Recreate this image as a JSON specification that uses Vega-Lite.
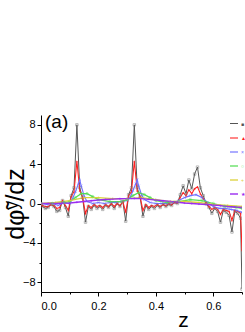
{
  "$schema": "https://vega.github.io/schema/vega-lite/v6.json",
  "width": 201,
  "height": 177,
  "autosize": {"type": "none"},
  "padding": {"left": 41, "top": 115, "right": 3, "bottom": 40},
  "background": "white",
  "config": {
    "view": {"stroke": null},
    "font": "Liberation Sans",
    "axis": {"grid": false, "domainColor": "black", "tickColor": "black", "labelColor": "black", "titleColor": "black", "labelFont": "Liberation Sans", "titleFont": "Liberation Sans", "labelFontSize": 11, "titleFontWeight": "normal"}
  },
  "title": {"text": "(a)", "anchor": "start", "frame": "group", "fontSize": 19, "fontWeight": "normal", "font": "Liberation Sans", "color": "black", "offset": -17, "dx": 4},
  "datasets": {
    "d": [
      {"s":"s1","z":0,"v":-0.1},{"s":"s1","z":0.005,"v":-0.3},{"s":"s1","z":0.015,"v":-0.5},{"s":"s1","z":0.025,"v":-0.4},{"s":"s1","z":0.035,"v":-0.1},{"s":"s1","z":0.045,"v":-0.3},{"s":"s1","z":0.055,"v":-0.8},{"s":"s1","z":0.065,"v":-0.7},{"s":"s1","z":0.075,"v":0.3},{"s":"s1","z":0.085,"v":-0.4},{"s":"s1","z":0.095,"v":-1.3},{"s":"s1","z":0.105,"v":0.8},{"s":"s1","z":0.115,"v":1.6},{"s":"s1","z":0.125,"v":8.0},{"s":"s1","z":0.135,"v":1.6},{"s":"s1","z":0.145,"v":0.6},{"s":"s1","z":0.155,"v":-1.9},{"s":"s1","z":0.165,"v":-0.3},{"s":"s1","z":0.175,"v":-0.6},{"s":"s1","z":0.185,"v":-0.2},{"s":"s1","z":0.195,"v":-0.5},{"s":"s1","z":0.205,"v":-0.3},{"s":"s1","z":0.215,"v":-0.6},{"s":"s1","z":0.225,"v":-0.2},{"s":"s1","z":0.235,"v":-0.4},{"s":"s1","z":0.245,"v":-0.1},{"s":"s1","z":0.255,"v":-0.5},{"s":"s1","z":0.265,"v":0.0},{"s":"s1","z":0.275,"v":-0.3},{"s":"s1","z":0.285,"v":0.2},{"s":"s1","z":0.295,"v":-1.8},{"s":"s1","z":0.305,"v":0.9},{"s":"s1","z":0.315,"v":1.6},{"s":"s1","z":0.325,"v":8.0},{"s":"s1","z":0.335,"v":1.6},{"s":"s1","z":0.345,"v":0.7},{"s":"s1","z":0.355,"v":-1.3},{"s":"s1","z":0.365,"v":-0.2},{"s":"s1","z":0.375,"v":-0.6},{"s":"s1","z":0.385,"v":-0.3},{"s":"s1","z":0.395,"v":-0.5},{"s":"s1","z":0.405,"v":-0.2},{"s":"s1","z":0.415,"v":-0.4},{"s":"s1","z":0.425,"v":-0.1},{"s":"s1","z":0.435,"v":-0.3},{"s":"s1","z":0.445,"v":-0.1},{"s":"s1","z":0.455,"v":-0.2},{"s":"s1","z":0.465,"v":0.1},{"s":"s1","z":0.475,"v":0.0},{"s":"s1","z":0.485,"v":0.9},{"s":"s1","z":0.495,"v":1.8},{"s":"s1","z":0.505,"v":1.0},{"s":"s1","z":0.515,"v":2.4},{"s":"s1","z":0.525,"v":1.5},{"s":"s1","z":0.535,"v":3.0},{"s":"s1","z":0.545,"v":3.7},{"s":"s1","z":0.555,"v":1.6},{"s":"s1","z":0.565,"v":0.8},{"s":"s1","z":0.575,"v":0.0},{"s":"s1","z":0.585,"v":-0.4},{"s":"s1","z":0.595,"v":-1.0},{"s":"s1","z":0.605,"v":-0.5},{"s":"s1","z":0.615,"v":-0.8},{"s":"s1","z":0.625,"v":-1.9},{"s":"s1","z":0.635,"v":-0.7},{"s":"s1","z":0.645,"v":-0.9},{"s":"s1","z":0.655,"v":-1.2},{"s":"s1","z":0.665,"v":-2.9},{"s":"s1","z":0.675,"v":-0.8},{"s":"s1","z":0.685,"v":-1.0},{"s":"s1","z":0.695,"v":-1.5},{"s":"s1","z":0.7,"v":-8.7},
      {"s":"s2","z":0,"v":-0.1},{"s":"s2","z":0.005,"v":-0.2},{"s":"s2","z":0.015,"v":-0.3},{"s":"s2","z":0.025,"v":-0.3},{"s":"s2","z":0.035,"v":-0.1},{"s":"s2","z":0.045,"v":-0.2},{"s":"s2","z":0.055,"v":-0.5},{"s":"s2","z":0.065,"v":-0.4},{"s":"s2","z":0.075,"v":0.3},{"s":"s2","z":0.085,"v":-0.2},{"s":"s2","z":0.095,"v":-0.7},{"s":"s2","z":0.105,"v":0.7},{"s":"s2","z":0.115,"v":1.2},{"s":"s2","z":0.125,"v":4.3},{"s":"s2","z":0.135,"v":1.3},{"s":"s2","z":0.145,"v":0.6},{"s":"s2","z":0.155,"v":-1.0},{"s":"s2","z":0.165,"v":-0.2},{"s":"s2","z":0.175,"v":-0.4},{"s":"s2","z":0.185,"v":-0.1},{"s":"s2","z":0.195,"v":-0.3},{"s":"s2","z":0.205,"v":-0.2},{"s":"s2","z":0.215,"v":-0.4},{"s":"s2","z":0.225,"v":-0.1},{"s":"s2","z":0.235,"v":-0.3},{"s":"s2","z":0.245,"v":0.0},{"s":"s2","z":0.255,"v":-0.3},{"s":"s2","z":0.265,"v":0.0},{"s":"s2","z":0.275,"v":-0.2},{"s":"s2","z":0.285,"v":0.2},{"s":"s2","z":0.295,"v":-0.9},{"s":"s2","z":0.305,"v":0.8},{"s":"s2","z":0.315,"v":1.2},{"s":"s2","z":0.325,"v":4.3},{"s":"s2","z":0.335,"v":1.3},{"s":"s2","z":0.345,"v":0.7},{"s":"s2","z":0.355,"v":-0.7},{"s":"s2","z":0.365,"v":-0.1},{"s":"s2","z":0.375,"v":-0.4},{"s":"s2","z":0.385,"v":-0.2},{"s":"s2","z":0.395,"v":-0.3},{"s":"s2","z":0.405,"v":-0.1},{"s":"s2","z":0.415,"v":-0.3},{"s":"s2","z":0.425,"v":-0.1},{"s":"s2","z":0.435,"v":-0.2},{"s":"s2","z":0.445,"v":0.0},{"s":"s2","z":0.455,"v":-0.1},{"s":"s2","z":0.465,"v":0.1},{"s":"s2","z":0.475,"v":0.1},{"s":"s2","z":0.485,"v":0.6},{"s":"s2","z":0.495,"v":1.1},{"s":"s2","z":0.505,"v":0.8},{"s":"s2","z":0.515,"v":1.4},{"s":"s2","z":0.525,"v":1.0},{"s":"s2","z":0.535,"v":1.5},{"s":"s2","z":0.545,"v":1.7},{"s":"s2","z":0.555,"v":1.0},{"s":"s2","z":0.565,"v":0.5},{"s":"s2","z":0.575,"v":0.1},{"s":"s2","z":0.585,"v":-0.3},{"s":"s2","z":0.595,"v":-0.6},{"s":"s2","z":0.605,"v":-0.4},{"s":"s2","z":0.615,"v":-0.6},{"s":"s2","z":0.625,"v":-1.1},{"s":"s2","z":0.635,"v":-0.6},{"s":"s2","z":0.645,"v":-0.7},{"s":"s2","z":0.655,"v":-0.8},{"s":"s2","z":0.665,"v":-1.7},{"s":"s2","z":0.675,"v":-0.7},{"s":"s2","z":0.685,"v":-0.8},{"s":"s2","z":0.695,"v":-1.0},{"s":"s2","z":0.7,"v":-4.75},
      {"s":"s3","z":0,"v":0.0},{"s":"s3","z":0.02,"v":-0.1},{"s":"s3","z":0.04,"v":0.0},{"s":"s3","z":0.06,"v":-0.2},{"s":"s3","z":0.08,"v":0.1},{"s":"s3","z":0.1,"v":0.0},{"s":"s3","z":0.11,"v":0.5},{"s":"s3","z":0.12,"v":1.2},{"s":"s3","z":0.13,"v":2.0},{"s":"s3","z":0.135,"v":2.4},{"s":"s3","z":0.14,"v":1.8},{"s":"s3","z":0.15,"v":0.8},{"s":"s3","z":0.16,"v":0.2},{"s":"s3","z":0.18,"v":0.0},{"s":"s3","z":0.2,"v":0.1},{"s":"s3","z":0.22,"v":0.0},{"s":"s3","z":0.24,"v":0.1},{"s":"s3","z":0.26,"v":0.1},{"s":"s3","z":0.28,"v":0.2},{"s":"s3","z":0.3,"v":0.3},{"s":"s3","z":0.31,"v":0.6},{"s":"s3","z":0.32,"v":1.3},{"s":"s3","z":0.33,"v":2.0},{"s":"s3","z":0.335,"v":2.4},{"s":"s3","z":0.34,"v":1.8},{"s":"s3","z":0.35,"v":0.9},{"s":"s3","z":0.36,"v":0.4},{"s":"s3","z":0.38,"v":0.1},{"s":"s3","z":0.4,"v":0.0},{"s":"s3","z":0.42,"v":0.0},{"s":"s3","z":0.44,"v":0.0},{"s":"s3","z":0.46,"v":0.1},{"s":"s3","z":0.48,"v":0.3},{"s":"s3","z":0.5,"v":0.6},{"s":"s3","z":0.52,"v":0.8},{"s":"s3","z":0.54,"v":0.9},{"s":"s3","z":0.56,"v":0.6},{"s":"s3","z":0.58,"v":0.1},{"s":"s3","z":0.6,"v":-0.3},{"s":"s3","z":0.62,"v":-0.5},{"s":"s3","z":0.64,"v":-0.5},{"s":"s3","z":0.66,"v":-0.6},{"s":"s3","z":0.68,"v":-0.7},{"s":"s3","z":0.7,"v":-0.9},
      {"s":"s4","z":0,"v":0.0},{"s":"s4","z":0.04,"v":0.0},{"s":"s4","z":0.08,"v":0.1},{"s":"s4","z":0.1,"v":0.2},{"s":"s4","z":0.12,"v":0.6},{"s":"s4","z":0.14,"v":1.0},{"s":"s4","z":0.16,"v":1.0},{"s":"s4","z":0.18,"v":0.7},{"s":"s4","z":0.2,"v":0.4},{"s":"s4","z":0.24,"v":0.2},{"s":"s4","z":0.28,"v":0.2},{"s":"s4","z":0.3,"v":0.4},{"s":"s4","z":0.32,"v":0.8},{"s":"s4","z":0.34,"v":1.1},{"s":"s4","z":0.36,"v":0.9},{"s":"s4","z":0.38,"v":0.6},{"s":"s4","z":0.4,"v":0.3},{"s":"s4","z":0.44,"v":0.1},{"s":"s4","z":0.48,"v":0.2},{"s":"s4","z":0.52,"v":0.4},{"s":"s4","z":0.56,"v":0.3},{"s":"s4","z":0.6,"v":0.0},{"s":"s4","z":0.64,"v":-0.3},{"s":"s4","z":0.68,"v":-0.4},{"s":"s4","z":0.7,"v":-0.5},
      {"s":"s5","z":0,"v":0.0},{"s":"s5","z":0.05,"v":0.1},{"s":"s5","z":0.1,"v":0.3},{"s":"s5","z":0.15,"v":0.6},{"s":"s5","z":0.2,"v":0.6},{"s":"s5","z":0.25,"v":0.5},{"s":"s5","z":0.3,"v":0.5},{"s":"s5","z":0.35,"v":0.6},{"s":"s5","z":0.4,"v":0.4},{"s":"s5","z":0.45,"v":0.2},{"s":"s5","z":0.5,"v":0.2},{"s":"s5","z":0.55,"v":0.1},{"s":"s5","z":0.6,"v":-0.1},{"s":"s5","z":0.65,"v":-0.2},{"s":"s5","z":0.7,"v":-0.3},
      {"s":"s6","z":0,"v":0.0},{"s":"s6","z":0.025,"v":0.0},{"s":"s6","z":0.05,"v":0.0},{"s":"s6","z":0.075,"v":0.02},{"s":"s6","z":0.1,"v":0.05},{"s":"s6","z":0.125,"v":0.12},{"s":"s6","z":0.15,"v":0.2},{"s":"s6","z":0.175,"v":0.28},{"s":"s6","z":0.2,"v":0.35},{"s":"s6","z":0.225,"v":0.4},{"s":"s6","z":0.25,"v":0.45},{"s":"s6","z":0.275,"v":0.48},{"s":"s6","z":0.3,"v":0.5},{"s":"s6","z":0.325,"v":0.52},{"s":"s6","z":0.35,"v":0.5},{"s":"s6","z":0.375,"v":0.42},{"s":"s6","z":0.4,"v":0.35},{"s":"s6","z":0.425,"v":0.28},{"s":"s6","z":0.45,"v":0.2},{"s":"s6","z":0.475,"v":0.12},{"s":"s6","z":0.5,"v":0.05},{"s":"s6","z":0.525,"v":0.0},{"s":"s6","z":0.55,"v":-0.05},{"s":"s6","z":0.575,"v":-0.1},{"s":"s6","z":0.6,"v":-0.15},{"s":"s6","z":0.625,"v":-0.22},{"s":"s6","z":0.65,"v":-0.3},{"s":"s6","z":0.675,"v":-0.35},{"s":"s6","z":0.7,"v":-0.4}
    ]
  },
  "data": {"name": "d"},
  "encoding": {
    "x": {"field": "z", "type": "quantitative", "scale": {"domain": [0, 0.7], "nice": false, "zero": false},
      "axis": {"title": "z", "values": [0, 0.1, 0.2, 0.3, 0.4, 0.5, 0.6, 0.7], "labelExpr": "round(datum.value*10)%2==1 ? '' : format(datum.value, '.1f')",
        "tickSize": {"condition": {"test": "round(datum.value*10)%2==1", "value": 2}, "value": 4},
        "labelPadding": 4, "titleFontSize": 21, "titleX": 142, "titleY": 34, "titleBaseline": "alphabetic", "titleAlign": "center"}},
    "y": {"field": "v", "type": "quantitative", "scale": {"domain": [-9, 9], "nice": false},
      "axis": {"title": "dφ̃ʸ/dz", "values": [-8, -6, -4, -2, 0, 2, 4, 6, 8], "labelExpr": "datum.value%4==0 ? datum.label : ''",
        "tickSize": {"condition": {"test": "datum.value%4!=0", "value": 2}, "value": 4},
        "labelPadding": 2, "titleFontSize": 25, "titlePadding": -6}}
  },
  "layer": [
    {
      "mark": {"type": "line", "clip": true},
      "encoding": {
        "strokeWidth": {"field": "s", "type": "nominal", "scale": {"domain": ["s1","s2","s3","s4","s5","s6"], "range": [1, 1.4, 1, 1, 1, 2]}, "legend": null},
        "color": {"field": "s", "type": "nominal", "scale": {"domain": ["s1","s2","s3","s4","s5","s6"], "range": ["#555555","#ff2020","#7070ff","#55dd55","#dcd23c","#9a2cf0"]},
          "legend": {"orient": "none", "legendX": 188, "legendY": 4, "title": null, "symbolType": "stroke", "symbolSize": 64, "symbolStrokeWidth": 1.3,
            "labelFontSize": 5, "labelOffset": 2, "rowPadding": 6,
            "labelExpr": "datum.value=='s1' ? '■' : datum.value=='s2' ? '▲' : datum.value=='s3' ? '×' : datum.value=='s4' ? '○' : datum.value=='s5' ? '+' : '★'",
            "encode": {"labels": {"update": {"fill": {"scale": "color", "field": "value"}}}}}}
      }
    },
    {"transform": [{"filter": "datum.s=='s1'"}], "mark": {"type": "point", "shape": "square", "filled": false, "size": 6, "strokeWidth": 0.7, "color": "#777777", "clip": true}, "encoding": {}},
    {"transform": [{"filter": "datum.s=='s2'"}], "mark": {"type": "point", "shape": "triangle-up", "filled": true, "size": 5, "color": "#ff2020", "clip": true}, "encoding": {}},
    {"transform": [{"filter": "datum.s=='s3'"}], "mark": {"type": "point", "shape": "M-1,-1L1,1M-1,1L1,-1", "filled": false, "size": 6, "strokeWidth": 0.7, "color": "#7070ff", "clip": true}, "encoding": {}},
    {"transform": [{"filter": "datum.s=='s4'"}], "mark": {"type": "point", "shape": "circle", "filled": false, "size": 6, "strokeWidth": 0.7, "color": "#55dd55", "clip": true}, "encoding": {}},
    {"transform": [{"filter": "datum.s=='s5'"}], "mark": {"type": "point", "shape": "M-1,0L1,0M0,-1L0,1", "filled": false, "size": 6, "strokeWidth": 0.7, "color": "#dcd23c", "clip": true}, "encoding": {}},
    {"transform": [{"filter": "datum.s=='s6'"}], "mark": {"type": "point", "shape": "diamond", "filled": true, "size": 6, "color": "#9a2cf0", "clip": true}, "encoding": {}}
  ]
}
